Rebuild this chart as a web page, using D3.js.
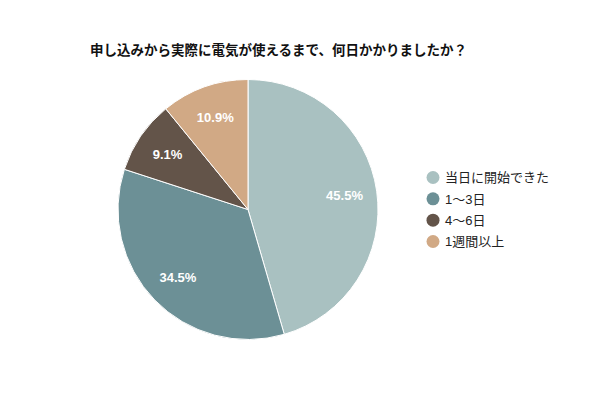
<!DOCTYPE html>
<html><head><meta charset="utf-8">
<script src="https://cdn.jsdelivr.net/npm/d3@7"></script>
<style>body{margin:0;background:#fff}</style>
</head><body>
<svg id="c" width="600" height="400"></svg>
<script>
const title = "申し込みから実際に電気が使えるまで、何日かかりましたか？";
const categories = ["当日に開始できた", "1〜3日", "4〜6日", "1週間以上"];
const values = [45.5, 34.5, 9.1, 10.9];
const colors = ["#a9c1c1", "#6c9096", "#635449", "#d1a985"];

const svg = d3.select("#c");
const font = "Arial, 'Liberation Sans', 'Noto Sans CJK JP', sans-serif";
svg.append("rect").attr("width",600).attr("height",400).attr("fill","#fff");

svg.append("text").attr("x",90).attr("y",55)
  .attr("font-family",font).attr("font-size",13.5).attr("font-weight","bold")
  .attr("fill","#111").text(title);

const cx = 248, cy = 209.5, r = 130;
const g = svg.append("g").attr("transform",`translate(${cx},${cy})`);
const pie = d3.pie().sort(null).value(d=>d)(values);
const arc = d3.arc().innerRadius(0).outerRadius(r);
const labelArc = d3.arc().innerRadius(r*0.75).outerRadius(r*0.75);

g.selectAll("path").data(pie).enter().append("path")
  .attr("d",arc).attr("fill",(d,i)=>colors[i])
  .attr("stroke","#fff").attr("stroke-width",1);

g.selectAll("text").data(pie).enter().append("text")
  .attr("transform",d=>`translate(${labelArc.centroid(d)})`)
  .attr("text-anchor","middle").attr("dy","0.35em")
  .attr("font-family",font).attr("font-size",13).attr("font-weight","bold")
  .attr("fill","#fff").text(d=>d.value.toFixed(1)+"%");

const legend = svg.append("g");
const ly = d3.scalePoint().domain(categories).range([177.5,241.5]);
categories.forEach((c,i)=>{
  legend.append("circle").attr("cx",433).attr("cy",ly(c)).attr("r",6.5).attr("fill",colors[i]);
  legend.append("text").attr("x",445).attr("y",ly(c)).attr("dy","0.36em")
    .attr("font-family",font).attr("font-size",13).attr("fill","#222").text(c);
});
</script>
</body></html>
